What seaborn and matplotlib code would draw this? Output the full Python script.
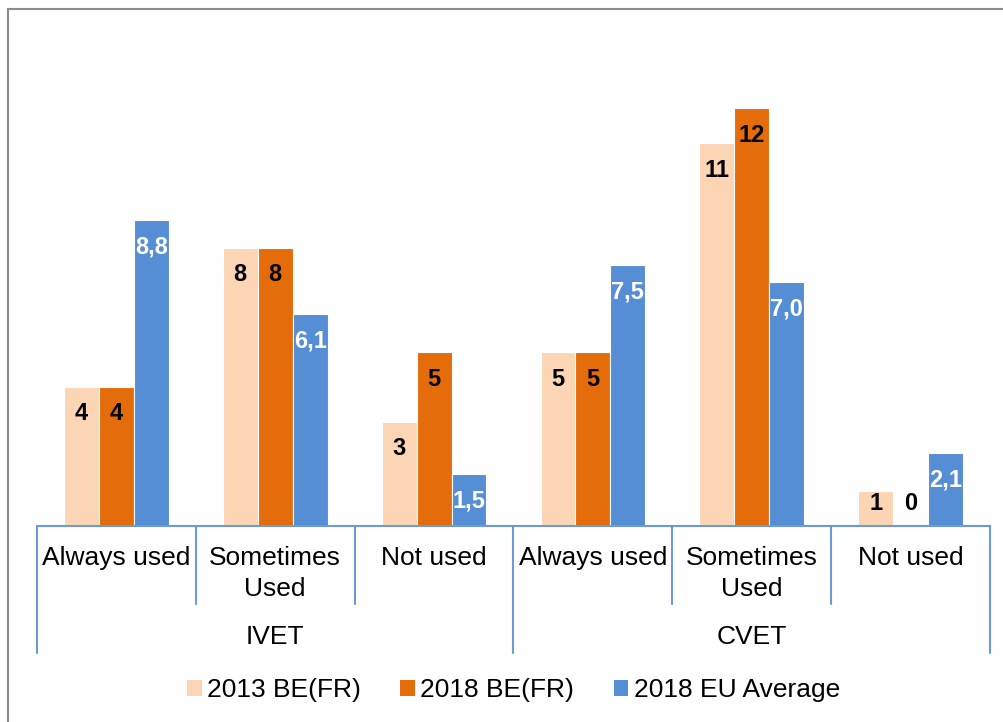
import matplotlib
matplotlib.use("Agg")
import matplotlib.pyplot as plt
import seaborn as sns
import pandas as pd
from matplotlib.patches import Patch, Rectangle
from matplotlib.lines import Line2D
import matplotlib.transforms as mtransforms

groups = ["IVET", "CVET"]
categories = ["Always used", "Sometimes\nUsed", "Not used"]
series = ["2013 BE(FR)", "2018 BE(FR)", "2018 EU Average"]
values_2013 = [4, 8, 3, 5, 11, 1]
values_2018 = [4, 8, 5, 5, 12, 0]
values_eu = [8.8, 6.1, 1.5, 7.5, 7.0, 2.1]
colors = ["#FCD5B5", "#E46C0A", "#558ED5"]
label_colors = ["black", "black", "white"]
decimals = [0, 0, 1]

keys = [f"{g}|{c}" for g in groups for c in categories]
rows = []
for s, vals in zip(series, [values_2013, values_2018, values_eu]):
    for k, v in zip(keys, vals):
        rows.append({"key": k, "series": s, "value": v})
df = pd.DataFrame(rows)

sns.set_theme(style="white")
plt.rcParams["font.family"] = ["Liberation Sans", "DejaVu Sans"]
plt.rcParams["text.color"] = "black"

fig = plt.figure(figsize=(10.04, 7.22), dpi=100)
W, H = 1004, 722
ax_left, ax_right = 37 / W, 990 / W
ax_bottom = 1 - 526 / H
ax_top = 1 - 38.8 / H
ax = fig.add_axes([ax_left, ax_bottom, ax_right - ax_left, ax_top - ax_bottom])

sns.barplot(data=df, x="key", y="value", hue="series", order=keys,
            hue_order=series, palette=colors, width=0.66, ax=ax,
            edgecolor="white", linewidth=0.8, saturation=1, legend=False)

ax.set_ylim(0, 14)
ax.set_xlim(-0.5, len(keys) - 0.5)
ax.set_xlabel("")
ax.set_ylabel("")
ax.set_yticks([])
for sp in ["left", "right", "top"]:
    ax.spines[sp].set_visible(False)
axis_color = "#6A9BD8"
ax.spines["bottom"].set_color(axis_color)
ax.spines["bottom"].set_linewidth(1.5)

FS = 19

# category tick labels
ax.set_xticks(range(len(keys)))
ax.set_xticklabels(categories * len(groups), fontsize=FS, color="black",
                   linespacing=1.35)
ax.tick_params(axis="x", length=0, pad=14.5)

# data labels
px_per_unit = (526 - 38.8) / 14
for i, cont in enumerate(ax.containers):
    for patch, v in zip(cont.patches, df[df.series == series[i]]["value"]):
        xc = patch.get_x() + patch.get_width() / 2
        y = max(v - 27 / px_per_unit, 23 / px_per_unit)
        txt = f"{v:.{decimals[i]}f}".replace(".", ",")
        col = label_colors[i] if v > 0 else "black"
        ax.text(xc, y, txt, ha="center", va="center", fontsize=17,
                fontweight="bold", color=col)

# separators and group labels
trans = mtransforms.blended_transform_factory(ax.transData, ax.transAxes)
ah = 526 - 38.8
short_y = -(604 - 526) / ah
long_y = -(653 - 526) / ah
n = len(categories)
for j in range(len(keys) + 1):
    xb = j - 0.5
    yb = long_y if j % n == 0 else short_y
    ax.add_line(Line2D([xb, xb], [0, yb], transform=trans, color=axis_color,
                       lw=1.5, clip_on=False))
for gi, g in enumerate(groups):
    xc = gi * n + (n - 1) / 2
    ax.text(xc, -(637 - 526) / ah, g, transform=trans, ha="center",
            va="center", fontsize=FS, color="black")

# legend
handles = [Patch(facecolor=c, edgecolor="none") for c in colors]
leg = fig.legend(handles, series, loc="center", ncol=3,
                 bbox_to_anchor=((ax_left + ax_right) / 2, 1 - 690 / H),
                 frameon=False, fontsize=FS, handlelength=0.55,
                 handleheight=0.55, handletextpad=0.2, columnspacing=1.5)
for t in leg.get_texts():
    t.set_color("black")

# outer border
fig.patches.append(Rectangle((8 / W, -0.1), 1.2, 1 - 9 / H + 0.1,
                             transform=fig.transFigure, fill=False,
                             edgecolor="#8C8C8C", linewidth=1.5))

fig.savefig("out.png", dpi=100)
